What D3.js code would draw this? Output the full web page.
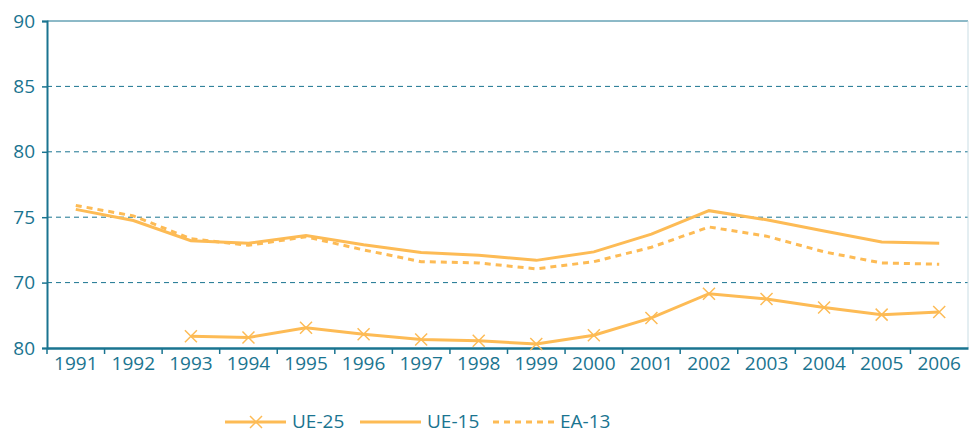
<!DOCTYPE html>
<meta charset="utf-8" />
<script src="https://d3js.org/d3.v7.min.js"></script>
<style>
  body { margin: 0; background: #fff; }
  svg { font-family: "Open Sans", "Noto Sans", sans-serif; }
</style>
<div id="chart"></div>
<script>
  // data
  const years = ["1991","1992","1993","1994","1995","1996","1997","1998","1999","2000","2001","2002","2003","2004","2005","2006"];
  const ue25 = [null, null, 65.9, 65.8, 66.55, 66.05, 65.65, 65.55, 65.3, 65.98, 67.3, 69.15, 68.75, 68.1, 67.55, 67.75];
  const ue15 = [75.6, 74.75, 73.2, 73.0, 73.6, 72.9, 72.3, 72.1, 71.7, 72.35, 73.7, 75.5, 74.8, 73.95, 73.1, 73.0];
  const ea13 = [75.9, 75.1, 73.35, 72.85, 73.5, 72.5, 71.6, 71.5, 71.05, 71.6, 72.7, 74.25, 73.55, 72.35, 71.5, 71.4];
  // tick values and the labels printed in the source (bottom label reads "80")
  const yTicks = [65, 70, 75, 80, 85, 90];
  const yLabels = ["80", "70", "75", "80", "85", "90"];

  const teal = "#1a7490", orange = "#fdbb55";
  const W = 970, H = 434;
  const margin = { top: 21, right: 2, bottom: 86, left: 47 };
  const width = W - margin.left - margin.right,
    height = H - margin.top - margin.bottom;

  const svg = d3.select("#chart").append("svg")
    .attr("width", W).attr("height", H);
  const g = svg.append("g").attr("transform", `translate(${margin.left},${margin.top})`);

  const x = d3.scaleBand().domain(years).range([0, width]);
  const y = d3.scaleLinear().domain([65, 90]).range([height, 0]);
  const cx = d => x(d) + x.bandwidth() / 2;

  // gridlines
  g.selectAll(".grid").data(yTicks.filter(d => d > 65)).join("line")
    .attr("x1", 0).attr("x2", width)
    .attr("y1", d => y(d)).attr("y2", d => y(d))
    .attr("stroke", teal).attr("stroke-width", 1)
    .attr("stroke-dasharray", d => d === 90 ? null : "5,4");

  // faint right edge
  g.append("line").attr("x1", width).attr("x2", width).attr("y1", 0).attr("y2", height)
    .attr("stroke", "#c9dde4").attr("stroke-width", 1);

  // y axis
  const yAxis = g.append("g")
    .call(d3.axisLeft(y).tickValues(yTicks).tickSize(5).tickFormat((d, i) => yLabels[i]));
  yAxis.select(".domain").attr("stroke", teal).attr("stroke-width", 2);
  yAxis.selectAll(".tick line").attr("stroke", teal).attr("stroke-width", 1.5);
  yAxis.selectAll(".tick text").attr("fill", teal).attr("font-size", 19).attr("x", -12)
    .attr("font-family", "'Open Sans', sans-serif");

  // x axis with ticks on band boundaries
  const xAxis = g.append("g").attr("transform", `translate(0,${height})`)
    .call(d3.axisBottom(x).tickSize(0).tickPadding(9));
  xAxis.select(".domain").attr("stroke", teal).attr("stroke-width", 2.5);
  xAxis.selectAll(".tick text").attr("fill", teal).attr("font-size", 19)
    .attr("font-family", "'Open Sans', sans-serif");
  g.selectAll(".xt").data(years).join("line")
    .attr("x1", d => x(d)).attr("x2", d => x(d))
    .attr("y1", height).attr("y2", height + 6)
    .attr("stroke", teal).attr("stroke-width", 1.5);

  const line = d3.line()
    .defined(d => d[1] != null)
    .x(d => cx(d[0])).y(d => y(d[1]));
  const pairs = arr => years.map((yr, i) => [yr, arr[i]]);

  g.append("path").datum(pairs(ea13)).attr("d", line)
    .attr("fill", "none").attr("stroke", orange).attr("stroke-width", 3)
    .attr("stroke-dasharray", "6,5");
  g.append("path").datum(pairs(ue15)).attr("d", line)
    .attr("fill", "none").attr("stroke", orange).attr("stroke-width", 3);
  g.append("path").datum(pairs(ue25)).attr("d", line)
    .attr("fill", "none").attr("stroke", orange).attr("stroke-width", 3);

  const cross = "M-6,-6L6,6M-6,6L6,-6";
  g.selectAll(".mk").data(pairs(ue25).filter(d => d[1] != null)).join("path")
    .attr("d", cross)
    .attr("transform", d => `translate(${cx(d[0])},${y(d[1])})`)
    .attr("stroke", orange).attr("stroke-width", 1.5).attr("fill", "none");

  // legend
  const legend = [
    { name: "UE-25", x: 225, dash: null, mark: true },
    { name: "UE-15", x: 360, dash: null, mark: false },
    { name: "EA-13", x: 493, dash: "6,5", mark: false }
  ];
  const lg = svg.append("g").attr("transform", "translate(0,422)");
  legend.forEach(l => {
    lg.append("line").attr("x1", l.x).attr("x2", l.x + 61).attr("y1", 0).attr("y2", 0)
      .attr("stroke", orange).attr("stroke-width", 3).attr("stroke-dasharray", l.dash);
    if (l.mark) lg.append("path").attr("d", cross).attr("transform", `translate(${l.x + 31},0)`)
      .attr("stroke", orange).attr("stroke-width", 1.5);
    lg.append("text").attr("x", l.x + 67).attr("y", 6).attr("fill", teal)
      .attr("font-size", 19).text(l.name);
  });
</script>
